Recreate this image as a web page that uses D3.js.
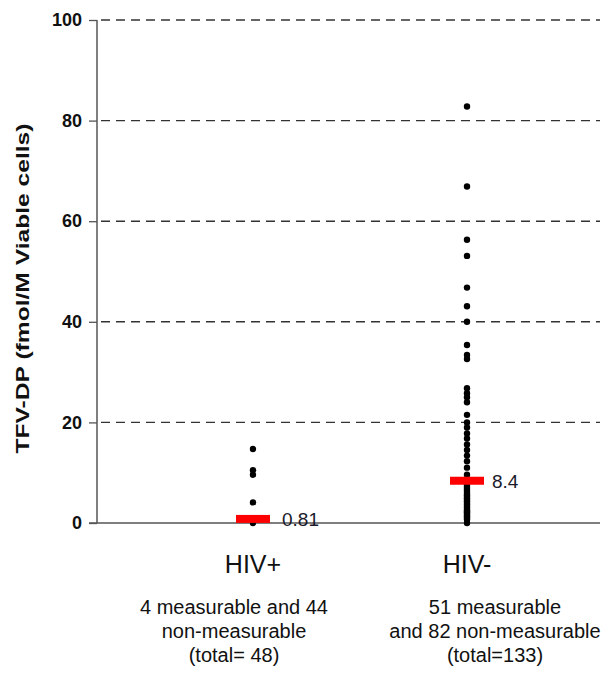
<!DOCTYPE html>
<html><head><meta charset="utf-8">
<script src="https://cdn.jsdelivr.net/npm/d3@7"></script>
<style>body{margin:0;background:#fff}svg{display:block}text{font-family:"Liberation Sans",Arial,sans-serif}</style>
</head><body><svg id="c" width="613" height="675"></svg>
<script>
const groups = ["HIV+", "HIV-"];
const hivPos = [14.7, 10.5, 9.6, 4.1, 0];
const hivNeg = [82.8, 66.9, 56.3, 53.1, 46.8, 43.1, 40.0, 35.4, 33.4, 32.6, 26.8, 25.8, 25.0, 24.0, 21.5, 20.0, 19.0, 17.8, 16.8, 15.6, 14.5, 13.4, 12.3, 11.0, 9.6, 8.4,
  7.8, 7.4, 7.0, 6.6, 6.2, 5.8, 5.5, 5.2, 4.9, 4.6, 4.3, 4.0, 3.7, 3.4, 3.1, 2.8, 2.5, 2.3, 2.1, 1.9, 1.6, 1.4, 1.2, 1.0, 0.7, 0];
const medians = [0.81, 8.4];
const yTicks = [0, 20, 40, 60, 80, 100];
const subtitles = [["4 measurable and 44", "non-measurable", "(total= 48)"], ["51 measurable", "and 82 non-measurable", "(total=133)"]];
const yTitle = "TFV-DP (fmol/M Viable cells)";

const svg = d3.select("#c");
const L = 97, R = 600, T = 20, B = 523;
const y = d3.scaleLinear().domain([0, 100]).range([B, T]);
const x = d3.scalePoint().domain(groups).range([253, 467]);

// gridlines
svg.append("g").selectAll("line").data(yTicks.filter(d => d > 0)).join("line")
  .attr("x1", L).attr("x2", R).attr("y1", d => y(d)).attr("y2", d => y(d))
  .attr("stroke", "#333").attr("stroke-width", 1.4).attr("stroke-dasharray", "9,6").attr("stroke-dashoffset", -4);

// y axis
const ya = svg.append("g").attr("transform", `translate(${L},0)`)
  .call(d3.axisLeft(y).tickValues(yTicks).tickSize(8).tickPadding(7));
ya.select(".domain").attr("stroke", "#555").attr("stroke-width", 1.5).attr("d", `M0,${B}V${T}`);
ya.selectAll(".tick line").attr("stroke", "#555").attr("stroke-width", 1.3);
ya.selectAll(".tick text").attr("font-size", 18).attr("font-weight", "bold").attr("fill", "#111")
  .style("font-family", '"Liberation Sans",Arial,sans-serif');

// x axis line
svg.append("line").attr("x1", L - 8).attr("x2", R).attr("y1", y(0)).attr("y2", y(0))
  .attr("stroke", "#555").attr("stroke-width", 1.5);

// y title
svg.append("text").attr("transform", `translate(29,${(T + B) / 2 + 17}) rotate(-90)`)
  .attr("text-anchor", "middle").attr("font-size", 19).attr("font-weight", "bold").attr("fill", "#111")
  .attr("textLength", 330).attr("lengthAdjust", "spacingAndGlyphs")
  .text(yTitle);

// points
const series = [hivPos, hivNeg];
series.forEach((vals, i) => {
  svg.append("g").selectAll("circle").data(vals).join("circle")
    .attr("cx", x(groups[i])).attr("cy", d => y(d)).attr("r", 3.2).attr("fill", "#000");
});

// medians
svg.append("g").selectAll("rect").data(medians).join("rect")
  .attr("x", (d, i) => x(groups[i]) - 17).attr("y", d => y(d) - 4)
  .attr("width", 34).attr("height", 8).attr("fill", "#ff0000");
const labOff = [29, 25];
svg.append("g").selectAll("text").data(medians).join("text")
  .attr("x", (d, i) => x(groups[i]) + labOff[i]).attr("y", d => y(d) + 7)
  .attr("font-size", 19).attr("fill", "#1a1a2a").text(d => d);

// category labels
svg.append("g").selectAll("text").data(groups).join("text")
  .attr("x", d => x(d)).attr("y", 573).attr("text-anchor", "middle")
  .attr("font-size", 25).attr("fill", "#111").text(d => d);

// subtitles
const subOff = [-19, 28];
subtitles.forEach((lines, i) => {
  svg.append("g").selectAll("text").data(lines).join("text")
    .attr("x", x(groups[i]) + subOff[i]).attr("y", (d, j) => 614 + j * 24)
    .attr("text-anchor", "middle").attr("font-size", 20).attr("fill", "#111").text(d => d);
});
</script></body></html>
